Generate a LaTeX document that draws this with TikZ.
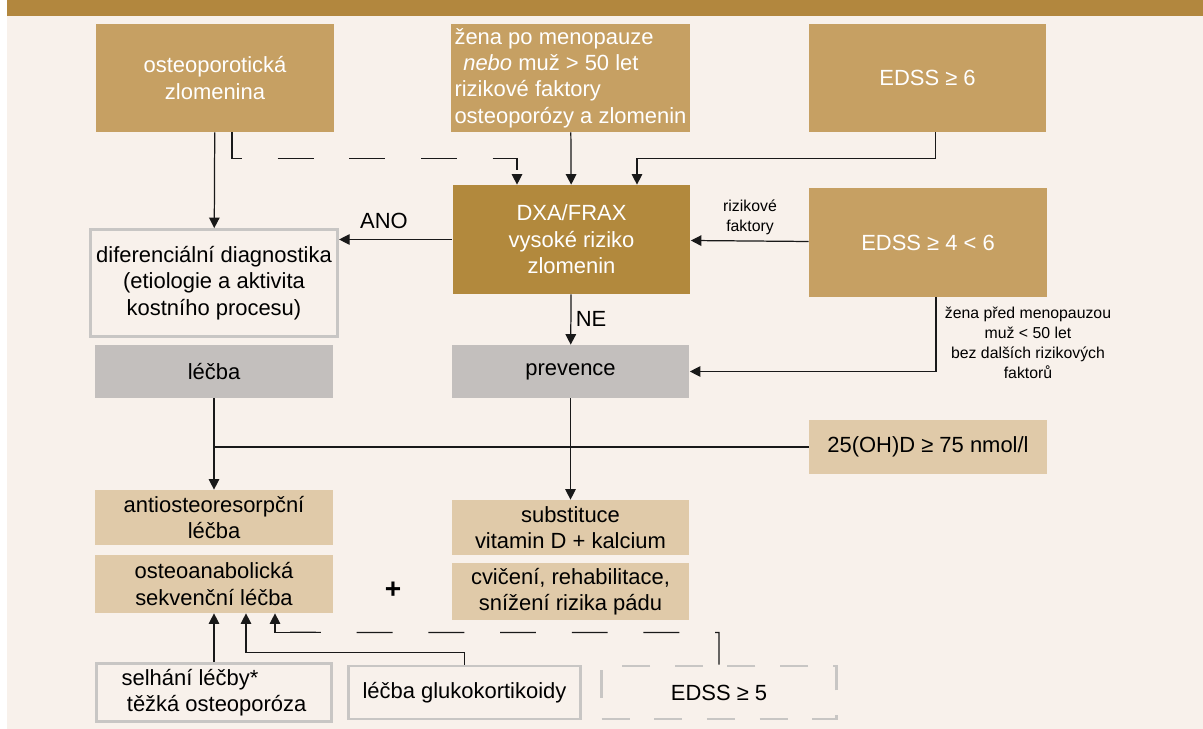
\documentclass[tikz,border=0pt]{standalone}
\usepackage{fontspec}
\setmainfont{Liberation Sans}
\usetikzlibrary{positioning,calc,arrows.meta}
\definecolor{headcolor}{RGB}{178,135,62}
\definecolor{bgcolor}{RGB}{248,241,235}
\definecolor{ochrecolor}{RGB}{198,160,99}
\definecolor{dxacolor}{RGB}{178,137,61}
\definecolor{greycolor}{RGB}{195,191,189}
\definecolor{beigecolor}{RGB}{224,202,169}
\definecolor{framecolor}{RGB}{200,198,196}
\newcommand{\boxfont}{\fontsize{12.5}{15}\selectfont}
\newcommand{\notefont}{\fontsize{9}{11.3}\selectfont}

\begin{document}
\begin{tikzpicture}[
    x=0.02cm, y=-0.02cm,
    onode/.style={fill=ochrecolor, text=white, minimum width=4.76cm, minimum height=2.16cm, align=center, inner sep=2pt, font=\boxfont},
    dxnode/.style={onode, fill=dxacolor},
    grnode/.style={fill=greycolor, minimum width=4.76cm, minimum height=1.06cm, align=center, font=\boxfont},
    bnode/.style={fill=beigecolor, minimum width=4.76cm, minimum height=1.1cm, align=center, inner sep=2pt, font=\boxfont},
    fnode/.style={draw=framecolor, line width=1.6pt, fill=bgcolor, minimum width=4.7cm, minimum height=1.06cm, align=center, font=\boxfont},
    dfnode/.style={fnode, dash pattern=on 16pt off 14pt},
    edge/.style={-{Triangle[length=6pt,width=6pt]}, line width=0.7pt, black!90},
    dedge/.style={edge, dash pattern=on 20.4pt off 20.4pt},
    line/.style={line width=0.7pt, black!90},
    dline/.style={line, dash pattern=on 20.4pt off 20.4pt}
]
    % Page
    \useasboundingbox (0,0) rectangle (1203,729);
    \fill[bgcolor] (7,16) rectangle (1203,729);
    \fill[headcolor] (7,0) rectangle (1203,16);

    % Top row
    \node[onode] (osteo) at (215,78) {osteoporotická\\zlomenina};
    \node[onode, align=left] (zena) at (570.5,78) {žena po menopauze\\\hspace{5pt}\textit{nebo} muž > 50 let\\rizikové faktory\\osteoporózy a zlomenin};
    \node[onode] (edss6) at (927.5,78) {EDSS ≥ 6};

    % Middle row
    \node[dxnode, minimum height=2.18cm] (dxa) at (571.5,239.5) {DXA/FRAX\\vysoké riziko\\zlomenin};
    \node[onode, minimum height=2.18cm] (edss46) at (928,242.5) {EDSS ≥ 4 < 6};
    \node[fnode, minimum height=2.14cm] (diff) at (214,283) {diferenciální diagnostika\\(etiologie a aktivita\\kostního procesu)};

    % Treatment / prevention
    \node[grnode] (lecba) at (214,371.5) {léčba};
    \node[grnode] (prev) at (570.5,371.5) {prevence};
    \node[bnode] (vitd) at (928,447) {25(OH)D ≥ 75 nmol/l};

    \node[bnode] (anti) at (214,517.5) {antiosteoresorpční\\léčba};
    \node[bnode, minimum height=1.16cm] (anab) at (214,584) {osteoanabolická\\sekvenční léčba};
    \node[bnode] (subst) at (570.5,527.5) {substituce\\vitamin D + kalcium};
    \node[bnode, minimum height=1.14cm] (cvic) at (570.5,591.5) {cvičení, rehabilitace,\\snížení rizika pádu};
    \node[font=\bfseries\fontsize{16}{16}\selectfont] (plus) at (393,590) {+};

    % Bottom row
    \node[fnode, align=left] (selh) at (214,692.5) {selhání léčby*\\\hspace{3pt}těžká osteoporóza};
    \node[fnode, minimum width=4.64cm] (gluko) at (464.5,692.5) {léčba glukokortikoidy};
    \node[dfnode] (edss5) at (719,692.5) {EDSS ≥ 5};
    \coordinate (e5bend) at ($(anab.south)+(76,19)$);

    % Edges into DXA
    \draw[edge] (osteo) -- (diff);
    \draw[dedge] ([xshift=0.34cm]osteo.south) -- ++(0,26) -| ([xshift=-1.09cm]dxa.north);
    \draw[edge] (zena) -- (dxa);
    \draw[edge] ([xshift=0.16cm]edss6.south) -- ++(0,26) -| ([xshift=1.31cm]dxa.north);
    \draw[edge] (edss46) -- (dxa);
    \draw[edge] ([xshift=0.16cm]edss46.south) |- (prev.east);

    % Out of DXA
    \draw[edge] (dxa.west) -- (dxa.west -| diff.east);
    \draw[edge] (dxa) -- (prev);

    % Down to therapy
    \draw[edge] (lecba) -- (anti);
    \draw[edge] (prev) -- (subst);
    \draw[line] (vitd.west) -- (vitd.west -| lecba.south);

    % Bottom edges
    \draw[edge] (selh) -- (anab);
    \draw[edge] (gluko.north) -- ++(0,-12) -| ([xshift=0.64cm]anab.south);
    \draw[dline] (edss5.north) -- ++(0,-32) -- (e5bend);
    \draw[edge] (e5bend) -| ([xshift=1.22cm]anab.south);

    % Labels
    \node[font=\boxfont] (ano) at (384,221) {ANO};
    \node[font=\boxfont] (ne) at (591,319) {NE};
    \node[font=\notefont, align=center] (rizf) at (750,217) {rizikové\\faktory};
    \node[font=\notefont, align=center] (zpm) at (1028,343) {žena před menopauzou\\muž < 50 let\\bez dalších rizikových\\faktorů};
\end{tikzpicture}
\end{document}
